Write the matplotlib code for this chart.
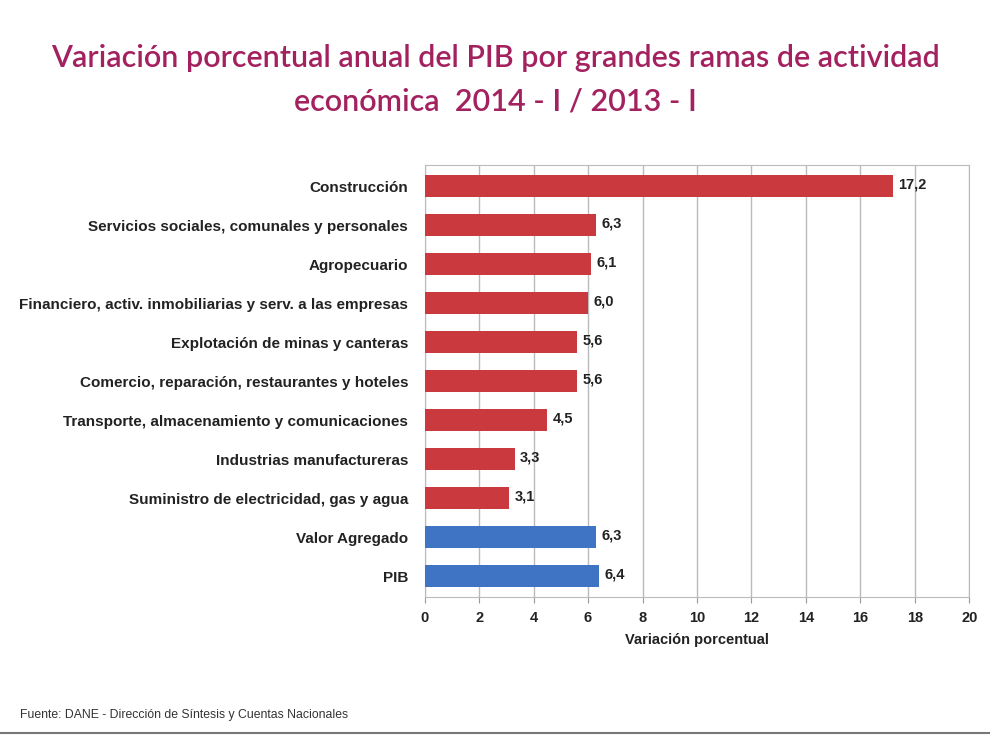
import matplotlib.pyplot as plt

# Variación porcentual anual del PIB, 2014-I / 2013-I
ramas = [
    "Construcción",
    "Servicios sociales, comunales y personales",
    "Agropecuario",
    "Financiero, activ. inmobiliarias y serv. a las empresas",
    "Explotación de minas y canteras",
    "Comercio, reparación, restaurantes y hoteles",
    "Transporte, almacenamiento y comunicaciones",
    "Industrias manufactureras",
    "Suministro de electricidad, gas y agua",
    "Valor Agregado",
    "PIB",
]
variacion = [17.2, 6.3, 6.1, 6.0, 5.6, 5.6, 4.5, 3.3, 3.1, 6.3, 6.4]
totales = ["Valor Agregado", "PIB"]

ROJO = "#C9393E"
AZUL = "#3F74C4"
TITULO = "#A3215F"

plt.rcParams["font.family"] = ["Liberation Sans", "DejaVu Sans"]

fig = plt.figure(figsize=(9.9, 7.37), dpi=100)
ax = fig.add_axes([0.429, 0.19, 0.55, 0.586])

pos = list(range(len(ramas)))
colores = [AZUL if r in totales else ROJO for r in ramas]
ax.barh(pos, variacion, height=0.56, color=colores, zorder=3)

for y, v in zip(pos, variacion):
    ax.text(v + 0.2, y - 0.05, f"{v:.1f}".replace(".", ","), va="center", ha="left",
            fontsize=10.5, fontweight="bold", color="#222222", zorder=4)

ax.set_xlim(0, 20)
ax.set_ylim(len(ramas) - 0.47, -0.54)
ax.set_xticks(range(0, 21, 2))
ax.set_yticks(pos)
ax.set_yticklabels(ramas, fontsize=11, fontweight="bold", color="#222222")
ax.tick_params(axis="y", length=0, pad=12)
ax.tick_params(axis="x", length=4, color="#999999", labelsize=10.5, pad=6)
for t in ax.get_xticklabels():
    t.set_fontweight("bold")
    t.set_color("#222222")
ax.grid(axis="x", color="#BBBBBB", linewidth=1, zorder=0)
for s in ax.spines.values():
    s.set_color("#BBBBBB")
ax.set_xlabel("Variación porcentual", fontsize=10.5, fontweight="bold", color="#222222", labelpad=6)

fig.text(0.5, 0.921, "Variación porcentual anual del PIB por grandes ramas de actividad",
         ha="center", va="center", fontsize=22, fontweight="semibold", color=TITULO,
         family=["Lato", "DejaVu Sans"])
fig.text(0.5, 0.862, "económica  2014 - I / 2013 - I",
         ha="center", va="center", fontsize=22, fontweight="semibold", color=TITULO,
         family=["Lato", "DejaVu Sans"])

fig.text(0.02, 0.03, "Fuente: DANE - Dirección de Síntesis y Cuentas Nacionales",
         ha="left", va="center", fontsize=8.8, color="#333333")
fig.add_artist(plt.Line2D([0.0, 1.0], [0.006, 0.006], color="#777777", linewidth=1.5))

fig.savefig("out.png", dpi=100)
